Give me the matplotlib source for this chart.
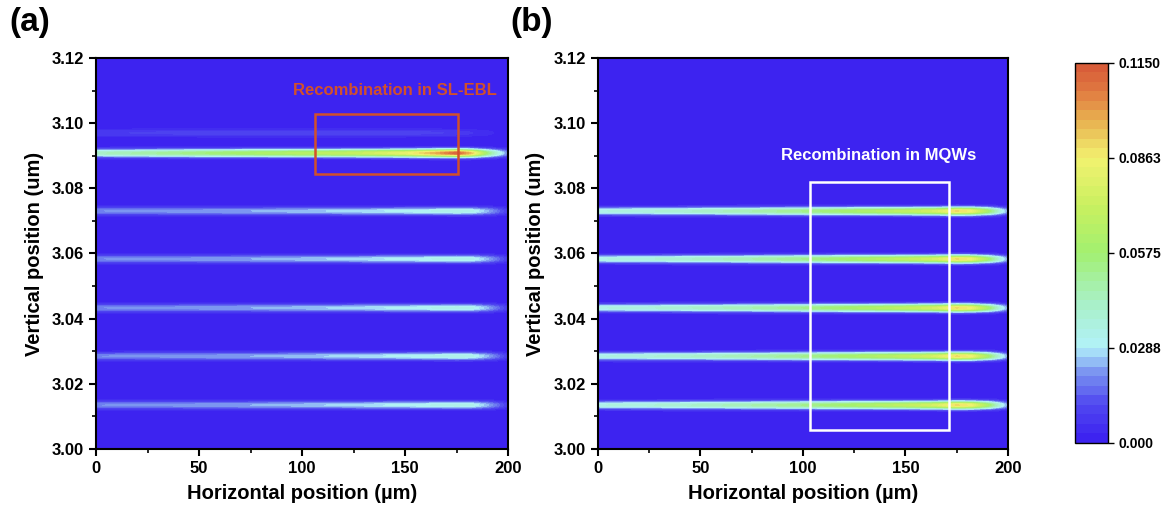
import matplotlib.pyplot as plt
import numpy as np
from matplotlib.colors import LinearSegmentedColormap

plt.rcParams["font.family"] = ["Liberation Sans", "DejaVu Sans"]
plt.rcParams["font.weight"] = "bold"

x_samples = [0, 25, 50, 75, 100, 125, 150, 165, 175, 182, 190, 195, 200]
qw_centers = [3.0135, 3.0285, 3.0433, 3.0583, 3.0730]
ebl_center = 3.0908
ebl_faint_center = 3.0970

a_ebl = [0.042, 0.048, 0.054, 0.060, 0.065, 0.070, 0.082, 0.098, 0.112, 0.095, 0.055, 0.035, 0.018]
a_faint = [0.008, 0.009, 0.010, 0.010, 0.010, 0.010, 0.010, 0.009, 0.008, 0.006, 0.004, 0.002, 0.001]
a_qw = [0.020, 0.021, 0.022, 0.023, 0.025, 0.027, 0.030, 0.032, 0.034, 0.033, 0.024, 0.016, 0.008]
b_qw = [0.034, 0.037, 0.041, 0.046, 0.052, 0.060, 0.068, 0.076, 0.090, 0.085, 0.060, 0.040, 0.020]

stripe_sigma = 0.0008
vmax = 0.115
cbar_ticks = [0.0, 0.0288, 0.0575, 0.0863, 0.1150]
cbar_labels = ["0.000", "0.0288", "0.0575", "0.0863", "0.1150"]

cmap = LinearSegmentedColormap.from_list(
    "rec",
    [(0.0, "#3a1ef0"), (0.10, "#5048f0"), (0.18, "#7890f0"), (0.25, "#b2f2fa"),
     (0.38, "#a8f0c0"), (0.50, "#a2f070"), (0.62, "#c8f060"), (0.75, "#f2f270"),
     (0.85, "#e8b050"), (0.93, "#e07840"), (1.0, "#d65838")])

x = np.linspace(0, 200, 401)
y = np.linspace(3.0, 3.12, 801)
X, Y = np.meshgrid(x, y)


def field(stripes):
    z = np.zeros_like(X)
    for yc, vals in stripes:
        amp = np.interp(x, x_samples, vals)
        z += amp[None, :] * np.exp(-0.5 * ((Y - yc) / stripe_sigma) ** 2)
    return np.clip(z, 0, vmax * 0.999)


za = field([(ebl_center, a_ebl), (ebl_faint_center, a_faint)] + [(c, a_qw) for c in qw_centers])
zb = field([(c, b_qw) for c in qw_centers])

fig = plt.figure(figsize=(11.61, 5.08), dpi=100)
ax_a = fig.add_axes([0.0827, 0.116, 0.3549, 0.770])
ax_b = fig.add_axes([0.515, 0.116, 0.3532, 0.770])
cax = fig.add_axes([0.926, 0.128, 0.0284, 0.748])

levels = np.linspace(0, vmax, 41)
for ax, z in [(ax_a, za), (ax_b, zb)]:
    cs = ax.contourf(X, Y, z, levels=levels, cmap=cmap, vmin=0, vmax=vmax)
    ax.set_xlim(0, 200)
    ax.set_ylim(3.0, 3.12)
    ax.set_xticks([0, 50, 100, 150, 200])
    ax.set_xticks([25, 75, 125, 175], minor=True)
    ax.set_yticks(np.arange(3.0, 3.121, 0.02))
    ax.set_yticks(np.arange(3.01, 3.12, 0.02), minor=True)
    ax.yaxis.set_major_formatter(plt.FormatStrFormatter("%.2f"))
    ax.tick_params(which="major", direction="out", length=5, width=1.5, labelsize=12)
    ax.tick_params(which="minor", direction="out", length=3, width=1.2)
    for s in ax.spines.values():
        s.set_linewidth(1.5)
    ax.set_xlabel("Horizontal position (µm)", fontsize=14.5, fontweight="bold", labelpad=6)
    ax.set_ylabel("Vertical position (um)", fontsize=14.5, fontweight="bold", labelpad=6)

ax_a.add_patch(plt.Rectangle((106.5, 3.0844), 69, 0.0184, fill=False, ec="#d2502a", lw=1.8))
ax_a.text(145, 3.1099, "Recombination in SL-EBL", color="#d2502a", fontsize=12,
          fontweight="bold", ha="center", va="center")
ax_b.add_patch(plt.Rectangle((103.4, 3.0058), 67.8, 0.0762, fill=False, ec="white", lw=1.8))
ax_b.text(137, 3.0902, "Recombination in MQWs", color="white", fontsize=12,
          fontweight="bold", ha="center", va="center")

fig.text(0.008, 0.955, "(a)", fontsize=24, fontweight="bold", va="center")
fig.text(0.44, 0.955, "(b)", fontsize=24, fontweight="bold", va="center")

cb = fig.colorbar(cs, cax=cax, ticks=cbar_ticks)
cb.ax.set_yticklabels(cbar_labels)
cb.ax.tick_params(direction="out", length=4, width=1.0, labelsize=10)
cb.outline.set_linewidth(1.0)

fig.savefig("out.png", dpi=100)
